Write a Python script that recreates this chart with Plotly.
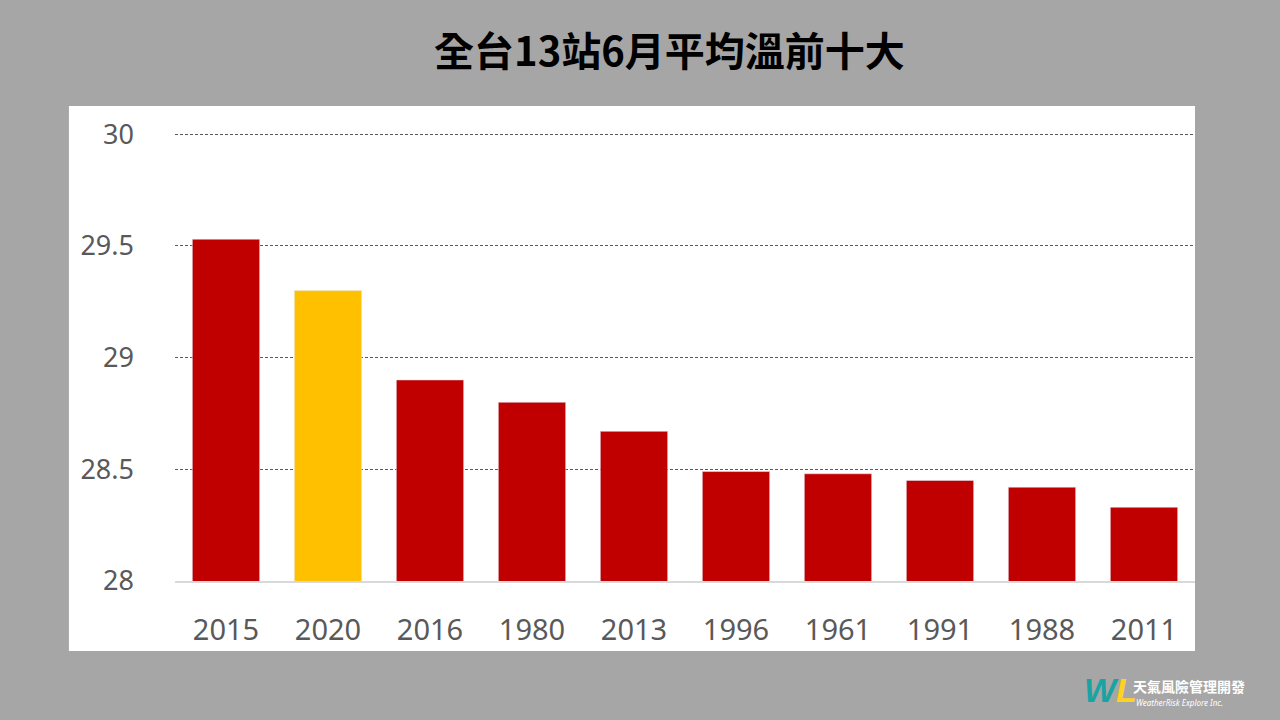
import plotly.graph_objects as go

years = ["2015", "2020", "2016", "1980", "2013", "1996", "1961", "1991", "1988", "2011"]
temps = [29.53, 29.30, 28.90, 28.80, 28.67, 28.49, 28.48, 28.45, 28.42, 28.33]
colors = ["#ffc000" if y == "2020" else "#c00000" for y in years]
title = "全台13站6月平均溫前十大"

fig = go.Figure(go.Bar(x=years, y=temps, marker_color=colors, width=0.66))

# white panel behind the plot area
fig.add_shape(type="rect", xref="paper", yref="paper", x0=-0.104, x1=1.0, y0=-0.156, y1=1.058,
              fillcolor="white", line_width=0, layer="below")

# logo
fig.add_annotation(xref="paper", yref="paper", x=0.889, y=-0.243, showarrow=False,
                   text="<b><i><span style='color:#1aa3a3'>W</span><span style='color:#ffd21f'>L</span></i></b>",
                   font=dict(size=34, family="Liberation Sans"), xanchor="left", yanchor="middle")
fig.add_annotation(xref="paper", yref="paper", x=0.937, y=-0.233, showarrow=False,
                   text="<b>天氣風險管理開發</b>", font=dict(size=14, color="white", family="Noto Sans CJK TC"),
                   xanchor="left", yanchor="middle")
fig.add_annotation(xref="paper", yref="paper", x=0.940, y=-0.270, showarrow=False,
                   text="<i>WeatherRisk Explore Inc.</i>", font=dict(size=8, color="white"),
                   xanchor="left", yanchor="middle")

fig.update_layout(
    width=1280, height=720,
    paper_bgcolor="#a6a6a6", plot_bgcolor="white",
    margin=dict(l=175, r=85, t=132, b=139),
    title=dict(text="<b>" + title + "</b>", x=0.523, xanchor="center", y=0.928, yanchor="middle",
               font=dict(size=40, color="black", family="Noto Sans CJK TC")),
    font=dict(family="Noto Sans, DejaVu Sans", size=29, color="#595959"),
    showlegend=False,
    bargap=0.34,
    xaxis=dict(showgrid=False, showline=True, linecolor="#d9d9d9", linewidth=1.5,
               ticks="", ticklabelstandoff=22, tickfont=dict(size=29, color="#595959")),
    yaxis=dict(range=[28, 30.01], tickvals=[28, 28.5, 29, 29.5, 30], ticktext=["28", "28.5", "29", "29.5", "30"],
               gridcolor="#595959", griddash="3px,2px", gridwidth=1, zeroline=False,
               ticklabelstandoff=40, tickfont=dict(size=27, color="#595959")),
)

fig.write_html("out.html", config={"displayModeBar": False},
               post_script="document.body.style.margin='0';")
